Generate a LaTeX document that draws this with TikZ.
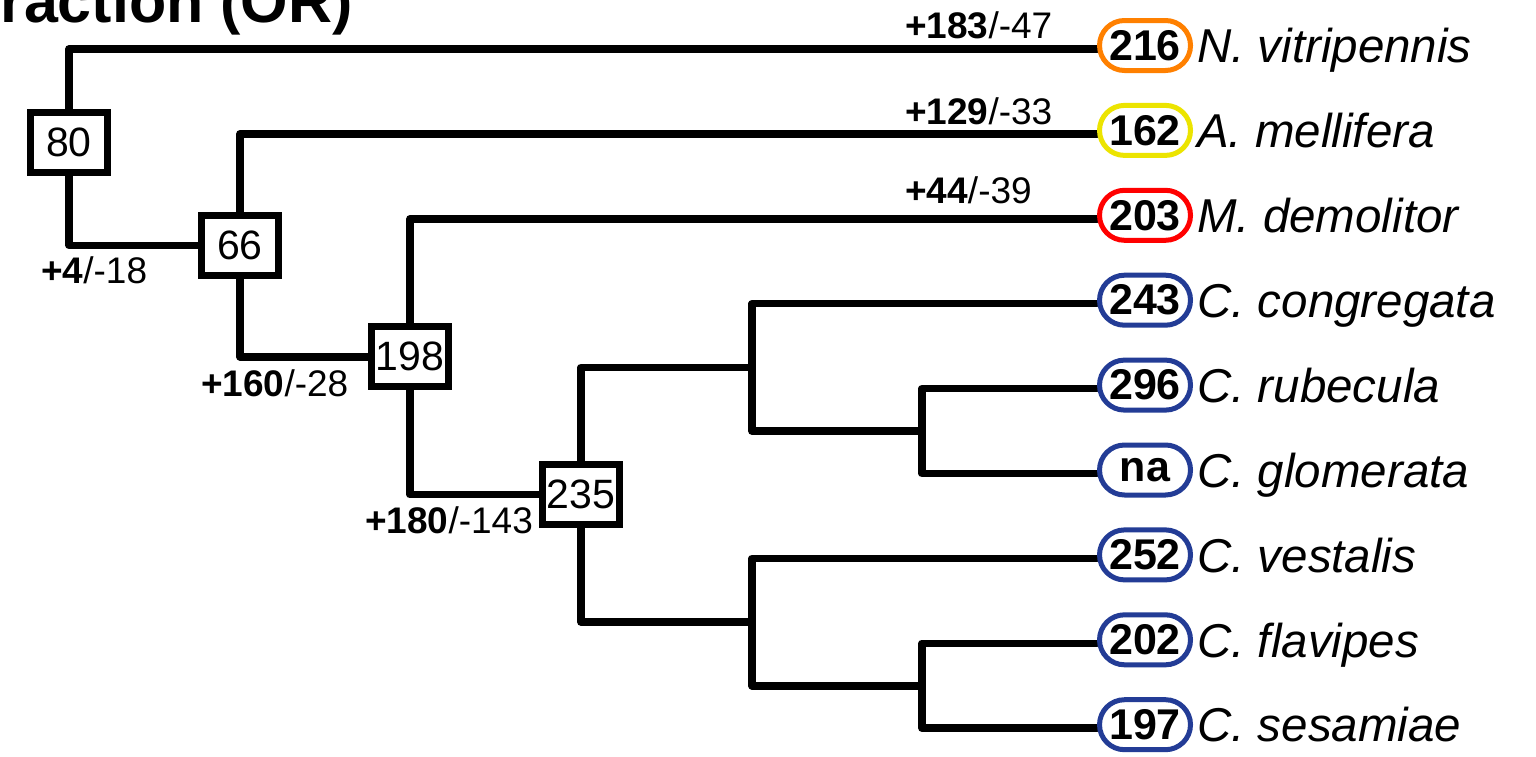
\documentclass[tikz,border=0pt]{standalone}
\usepackage{fontspec}
\setmainfont{Liberation Sans}
\usetikzlibrary{calc}
\pgfdeclarelayer{bg}
\pgfsetlayers{bg,main}
\definecolor{ovOrange}{RGB}{255,128,0}
\definecolor{ovYellow}{RGB}{236,228,0}
\definecolor{ovRed}{RGB}{255,0,0}
\definecolor{ovBlue}{RGB}{35,60,150}
\begin{document}
\begin{tikzpicture}[x=1pt,y=-1pt,
  branch/.style={line width=7.5pt, line cap=round, line join=round},
  nodebox/.style={draw, line width=7pt, fill=white, minimum width=77pt, minimum height=60pt, inner sep=0pt, font=\fontsize{41}{41}\selectfont},
  leafoval/.style={draw=#1, line width=5pt, fill=white, rounded corners=25pt, minimum width=91pt, minimum height=50pt, inner sep=0pt, font=\fontsize{43}{43}\selectfont\bfseries},
  leafname/.style={anchor=base west, inner sep=0pt, font=\fontsize{47.5}{47.5}\selectfont\itshape},
  brlabel/.style={anchor=base west, inner sep=0pt, font=\fontsize{37}{37}\selectfont},
  titletext/.style={anchor=base east, inner sep=0pt, font=\fontsize{61}{61}\selectfont\bfseries}
]
\useasboundingbox (0,0) rectangle (1536,756);

% title (cut off at top)
\begin{scope}
\clip (0,0) rectangle (1536,756);
\node[titletext] (title) at (353,22) {raction (OR)};
\end{scope}

% leaves
\node[leafoval=ovOrange] (l1) at (1145,45.5) {216};
\node[leafoval=ovYellow] (l2) at (1145,130.4) {162};
\node[leafoval=ovRed]    (l3) at (1145,215.3) {203};
\node[leafoval=ovBlue]   (l4) at (1145,300.2) {243};
\node[leafoval=ovBlue]   (l5) at (1145,385.1) {296};
\node[leafoval=ovBlue]   (l6) at (1145,470.0) {na};
\node[leafoval=ovBlue]   (l7) at (1145,554.9) {252};
\node[leafoval=ovBlue]   (l8) at (1145,639.8) {202};
\node[leafoval=ovBlue]   (l9) at (1145,724.7) {197};

\node[leafname] (t1) at (1197,62) {N. vitripennis};
\node[leafname] (t2) at (1197,147) {A. mellifera};
\node[leafname] (t3) at (1197,232) {M. demolitor};
\node[leafname] (t4) at (1197,317) {C. congregata};
\node[leafname] (t5) at (1197,402) {C. rubecula};
\node[leafname] (t6) at (1197,487) {C. glomerata};
\node[leafname] (t7) at (1197,572) {C. vestalis};
\node[leafname] (t8) at (1197,657) {C. flavipes};
\node[leafname] (t9) at (1197,741) {C. sesamiae};

% internal boxed nodes
\node[nodebox] (b80)  at (69,142.5) {80};
\node[nodebox] (b66)  at (240,245.3) {66};
\node[nodebox] (b198) at (410,356.8) {198};
\node[nodebox] (b235) at (581,494.7) {235};

% unboxed internal nodes
\coordinate (n1) at (752,367.4);
\coordinate (n2) at (922,431);
\coordinate (n3) at (752,622.1);
\coordinate (n4) at (922,685.8);

% branches
\begin{pgfonlayer}{bg}
\fill[white] (0,0) rectangle (1536,756);
\draw[branch] (b80.north) |- ([yshift=-3.5pt]l1.west);
\draw[branch] (b80.south) |- (b66.west);
\draw[branch] (b66.north) |- ([yshift=-3.5pt]l2.west);
\draw[branch] (b66.south) |- (b198.west);
\draw[branch] (b198.north) |- ([yshift=-3.5pt]l3.west);
\draw[branch] (b198.south) |- (b235.west);
\draw[branch] (b235.north) |- (n1);
\draw[branch] (b235.south) |- (n3);
\draw[branch] (n1) |- ([yshift=-3.5pt]l4.west);
\draw[branch] (n1) |- (n2);
\draw[branch] (n2) |- ([yshift=-3.5pt]l5.west);
\draw[branch] (n2) |- ([yshift=-3.5pt]l6.west);
\draw[branch] (n3) |- ([yshift=-3.5pt]l7.west);
\draw[branch] (n3) |- (n4);
\draw[branch] (n4) |- ([yshift=-3.5pt]l8.west);
\draw[branch] (n4) |- ([yshift=-3.5pt]l9.west);
\end{pgfonlayer}

% branch labels
\node[brlabel] (g1) at (905,38)  {\textbf{+183}/-47};
\node[brlabel] (g2) at (905,124) {\textbf{+129}/-33};
\node[brlabel] (g3) at (905,203) {\textbf{+44}/-39};
\node[brlabel] (g4) at (41,283)  {\textbf{+4}/-18};
\node[brlabel] (g5) at (201,396) {\textbf{+160}/-28};
\node[brlabel] (g6) at (365,533) {\textbf{+180}/-143};
\end{tikzpicture}
\end{document}
